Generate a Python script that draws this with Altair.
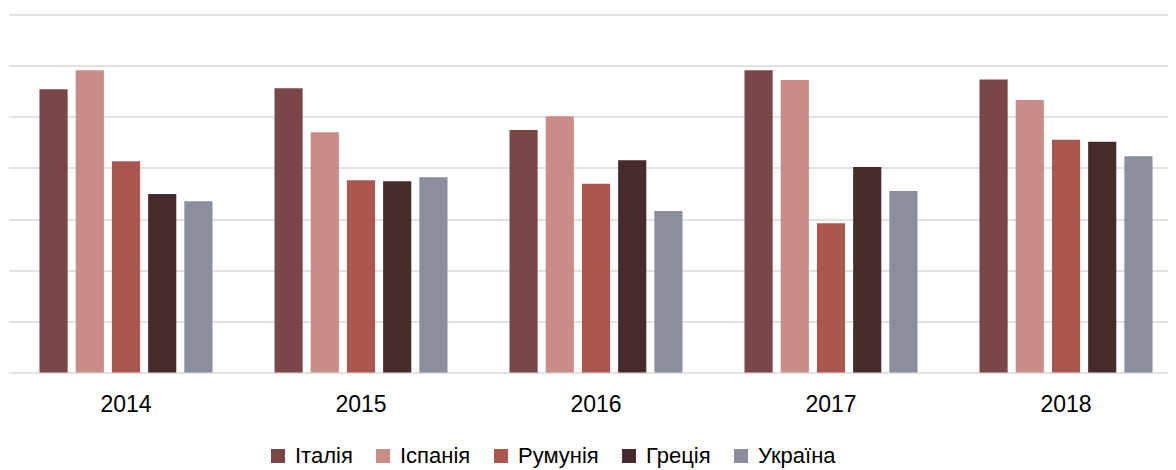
import altair as alt
import pandas as pd

years = ["2014", "2015", "2016", "2017", "2018"]
countries = ["Італія", "Іспанія", "Румунія", "Греція", "Україна"]
colors = ["#7a4749", "#c98c86", "#a9574f", "#472a2c", "#8b8e9c"]

italy   = [5.54, 5.56, 4.74, 5.91, 5.73]
spain   = [5.91, 4.70, 5.01, 5.72, 5.33]
romania = [4.13, 3.76, 3.69, 2.92, 4.55]
greece  = [3.49, 3.74, 4.15, 4.02, 4.51]
ukraine = [3.35, 3.82, 3.16, 3.55, 4.23]

series = [italy, spain, romania, greece, ukraine]
rows = []
for c, vals in zip(countries, series):
    for y, v in zip(years, vals):
        rows.append({"year": y, "country": c, "value": v})
df = pd.DataFrame(rows)

font = "Liberation Sans"

chart = alt.Chart(df).mark_bar().encode(
    x=alt.X("year:N", sort=years, title=None,
            scale=alt.Scale(range=[0.5, 1175.5], paddingInner=0.2637, paddingOuter=0.1318),
            axis=alt.Axis(labelAngle=0, ticks=False, domain=False, grid=False,
                          labelFontSize=23, labelFont=font, labelColor="#000000",
                          labelPadding=21)),
    xOffset=alt.XOffset("country:N", sort=countries,
                        scale=alt.Scale(paddingInner=0.222, paddingOuter=0)),
    y=alt.Y("value:Q", title=None,
            scale=alt.Scale(domain=[0, 7], nice=False, zero=True),
            axis=alt.Axis(values=[0, 1, 2, 3, 4, 5, 6, 7], labels=False, ticks=False,
                          domain=False, grid=True, gridColor="#d9d9d9",
                          gridWidth=1.4)),
    color=alt.Color("country:N", sort=countries,
                    scale=alt.Scale(domain=countries, range=colors),
                    legend=alt.Legend(title=None, orient="none", direction="horizontal",
                                      legendX=259, legendY=430.5, padding=0,
                                      symbolType="square", symbolSize=196,
                                      symbolStrokeWidth=0, labelFontSize=22,
                                      labelFont=font, labelColor="#000000",
                                      labelOffset=6, columnPadding=19)),
).properties(
    width=1160, height=358,
    padding={"top": 6.5, "left": 0, "right": 0, "bottom": 97.5},
    autosize=alt.AutoSizeParams(type="none"),
).configure_view(stroke=None)

chart.save("out.html", embed_options={"renderer": "svg", "actions": False})
